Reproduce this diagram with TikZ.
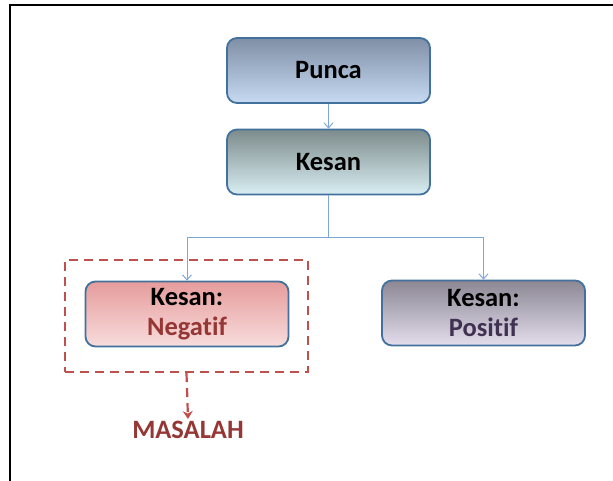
\documentclass[tikz,border=0pt]{standalone}
\usepackage{fontspec}
\setmainfont{Carlito}[Ligatures={NoCommon}]
\usetikzlibrary{arrows.meta}
\definecolor{boxedge}{HTML}{41719C}
\definecolor{linkblue}{HTML}{7EA6D8}
\definecolor{dashred}{HTML}{C0504D}
\definecolor{negred}{HTML}{953735}
\definecolor{pospurple}{HTML}{403152}
\definecolor{puncatop}{HTML}{7F8FA6}
\definecolor{puncabot}{HTML}{C6DAF2}
\definecolor{kesantop}{HTML}{7D8B8C}
\definecolor{kesanbot}{HTML}{D8EEF2}
\definecolor{negtop}{HTML}{E69C9C}
\definecolor{negbot}{HTML}{F8DCDC}
\definecolor{postop}{HTML}{8C8793}
\definecolor{posbot}{HTML}{E3DDEC}
\tikzset{
  stagebox/.style={draw=boxedge, line width=1.8pt, rounded corners=10pt,
    minimum width=203pt, minimum height=65pt, align=center,
    font=\bfseries\fontsize{26.5}{30}\selectfont},
  link/.style={draw=linkblue, line width=1pt, -{Straight Barb[length=5pt,width=9pt]}},
  dashframe/.style={draw=dashred, line width=2.2pt, dash pattern=on 9pt off 6pt,
    minimum width=243pt, minimum height=112pt},
  dashlink/.style={draw=dashred, line width=2.2pt, dash pattern=on 9pt off 6pt,
    -{Stealth[length=8pt,width=10pt]}},
}
\begin{document}
\begin{tikzpicture}[x=1pt, y=-1pt]
  \useasboundingbox (0,0) rectangle (613,480);
  % outer frame, open to the right and bottom
  \draw[line width=2pt] (10,500) -- (10,5) -- (630,5);

  \node[stagebox, top color=puncatop, bottom color=puncabot] (punca) at (328.5,70.5) {Punca};
  \node[stagebox, top color=kesantop, bottom color=kesanbot] (kesan) at (328.5,162) {Kesan};
  \node[dashframe] (focus) at (186.5,316) {};
  \node[stagebox, top color=negtop, bottom color=negbot] (neg) at (187,314)
    {Kesan:\\\textcolor{negred}{Negatif}};
  \node[stagebox, top color=postop, bottom color=posbot] (pos) at (483.5,313)
    {Kesan:\\\textcolor{pospurple}{Positif}};
  \node[font=\bfseries\fontsize{26.5}{30}\selectfont, text=negred, inner sep=2pt] (masalah) at (188,430) {MASALAH};

  \draw[link] (punca) -- (kesan);
  \coordinate (split) at (328.5,237);
  \draw[link] (kesan.south) -- (split) -| (neg.north);
  \draw[link] (split) -| (pos.north);
  \draw[dashlink] (focus.south) -- (masalah.north);
\end{tikzpicture}
\end{document}
